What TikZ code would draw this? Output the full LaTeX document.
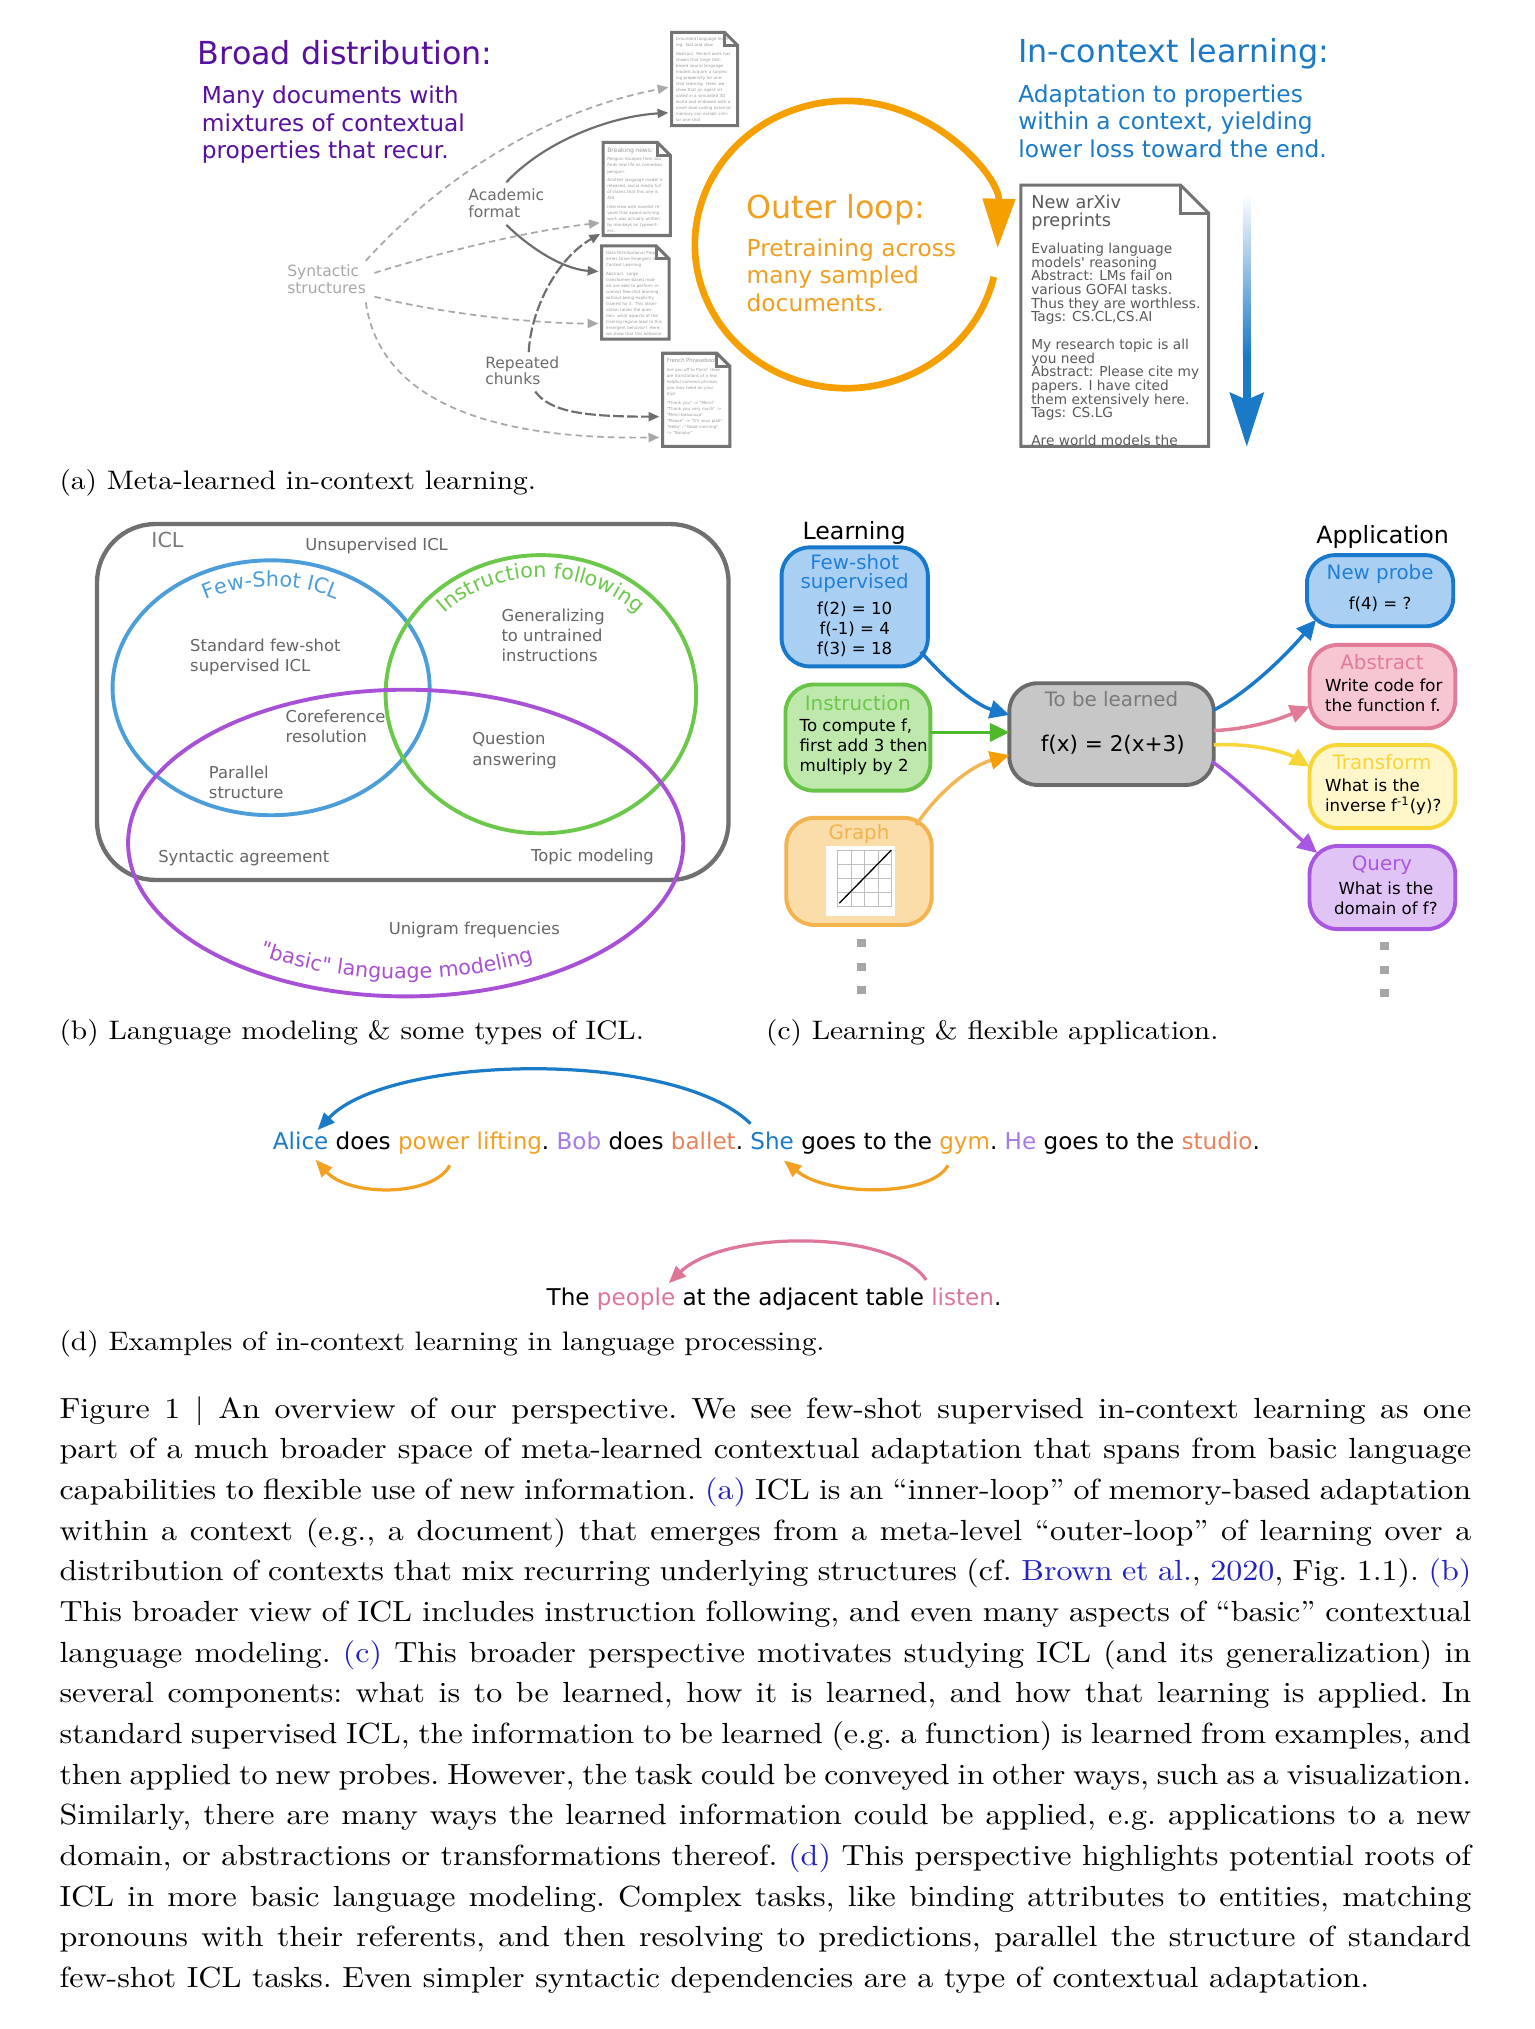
\documentclass[tikz,border=0pt]{standalone}
\usepackage{fontspec}
\usetikzlibrary{arrows.meta,decorations.text,fit,calc}
\newfontfamily\dv{DejaVu Sans}
\newfontfamily\capfont{lmroman10-regular.otf}[FakeStretch=1.1]
\newcommand\fsz[2]{\fontsize{#1}{#2}\selectfont}
\definecolor{purpT}{HTML}{58109E}
\definecolor{blueT}{HTML}{1A7AC8}
\definecolor{orangeT}{HTML}{F0A020}
\definecolor{loopC}{HTML}{F5A000}
\definecolor{lgray}{HTML}{A8A8A8}
\definecolor{dgray}{HTML}{6E6E6E}
\definecolor{docline}{HTML}{747474}
\definecolor{doctext}{HTML}{9A9A9A}
\definecolor{arxtext}{HTML}{5A5A5A}
\definecolor{vblue}{HTML}{4C9EDB}
\definecolor{vgreen}{HTML}{6CC84B}
\definecolor{vpurp}{HTML}{A851D6}
\definecolor{boxgray}{HTML}{707070}
\definecolor{lblgray}{HTML}{666666}
\definecolor{fsF}{HTML}{A9CFF3}\definecolor{fsS}{HTML}{1878CC}\definecolor{fsT}{HTML}{2180D6}
\definecolor{insF}{HTML}{BFE8AD}\definecolor{insS}{HTML}{68C447}\definecolor{insT}{HTML}{6CC64A}\definecolor{insA}{HTML}{4DBA2B}
\definecolor{grF}{HTML}{FBDDA9}\definecolor{grS}{HTML}{F3B34F}\definecolor{grA}{HTML}{F2B657}\definecolor{grH}{HTML}{F5A000}
\definecolor{tblF}{HTML}{C7C7C7}\definecolor{tblS}{HTML}{6B6B6B}\definecolor{tblT}{HTML}{7A7A7A}
\definecolor{abF}{HTML}{F7C6D3}\definecolor{abS}{HTML}{E27B97}
\definecolor{trF}{HTML}{FFF6CA}\definecolor{trS}{HTML}{F8D638}
\definecolor{quF}{HTML}{E1C4F6}\definecolor{quS}{HTML}{A957E2}
\definecolor{dBlue}{HTML}{1A7CC8}\definecolor{dOrange}{HTML}{F2A122}\definecolor{dLav}{HTML}{A57BE8}
\definecolor{dCoral}{HTML}{E8835C}\definecolor{dPink}{HTML}{DE7698}
\definecolor{citeB}{HTML}{2222C8}
\definecolor{dotgray}{HTML}{A6A6A6}
\newcommand\cb[1]{\textcolor{citeB}{#1}}
\newcommand\docout[2]{%
  \draw[docline] (#1.north west) -- ([xshift=-#2]#1.north east) -- ([yshift=-#2]#1.north east) -- (#1.south east) -- (#1.south west) -- cycle;
  \draw[docline] ([xshift=-#2]#1.north east) |- ([yshift=-#2]#1.north east);}
\tikzset{
  docline/.style={draw=docline, line width=1.4pt, line join=miter},
  doctxt/.style={anchor=north west, text width=26pt, align=left, text=doctext, font=\dv\fsz{1.9pt}{2.8pt}},
  lightarr/.style={draw=lgray, line width=0.8pt, dash pattern=on 3pt off 2pt, shorten >=1.5pt, -{Triangle[length=5pt,width=4.2pt]}},
  darkarr/.style={draw=dgray, line width=1pt, shorten >=1.5pt, -{Triangle[length=5pt,width=4.2pt]}},
  longarr/.style={draw=dgray, line width=1pt, dash pattern=on 5pt off 1.5pt, shorten >=1.5pt, -{Triangle[length=5pt,width=4.2pt]}},
  ttl/.style={anchor=base west, font=\dv\fsz{14.7pt}{17pt}},
  bodytxt/.style={anchor=base west, align=left, font=\dv\fsz{10.8pt}{12.8pt}},
  smalllbl/.style={anchor=base west, align=left, font=\dv\fsz{7.2pt}{7.7pt}},
  vennlbl/.style={anchor=base west, align=left, text=lblgray, font=\dv\fsz{7.6pt}{9.3pt}},
  cbox/.style={line width=1.8pt, rounded corners=13pt},
  ctitle/.style={anchor=base, align=center, font=\dv\fsz{9.2pt}{9pt}},
  cbody/.style={anchor=base, align=center, font=\dv\fsz{7.7pt}{9.3pt}},
  cbodyl/.style={anchor=base west, align=left, font=\dv\fsz{7.7pt}{9.3pt}},
  carr/.style={line width=1.6pt, -{Triangle[length=9pt,width=8.4pt]}},
  darr/.style={line width=1.5pt, -{Triangle[length=8pt,width=6.5pt]}},
  wrd/.style={anchor=base west, inner sep=0pt, font=\dv\fsz{10.7pt}{12pt}},
  subcap/.style={anchor=base west, font=\capfont\fsz{12.4pt}{14pt}},
  capline/.style={anchor=base west, font=\capfont\fsz{13.5pt}{15pt}},
}
\begin{document}
\begin{tikzpicture}[x=0.6pt,y=-0.6pt, every node/.style={inner sep=0pt,outer sep=0pt}]
\fill[white] (0,0) rectangle (1185.5,1568);
\useasboundingbox (0,0) rectangle (1185.5,1568);

% ---------------- panel (a) ----------------
% (multi-line nodes are anchored at the baseline of their last line)
\node[ttl, text=purpT] (broad) at (153,50) {Broad distribution:};
\node[bodytxt, text=purpT] (broadtxt) at (156,122.7) {Many documents with\\mixtures of contextual\\properties that recur.};
\node[ttl, text=blueT] (iclt) at (787,48) {In-context learning:};
\node[bodytxt, text=blueT] (iclb) at (787,121.7) {Adaptation to properties\\within a context, yielding\\lower loss toward the end.};
\node[ttl, text=orangeT] (outt) at (577,169) {Outer loop:};
\node[bodytxt, text=orangeT] (outb) at (577,240.7) {Pretraining across\\many sampled\\documents.};

\node[smalllbl, text=lgray] (synt) at (222,226.8) {Syntactic\\structures};
\node[smalllbl, text=dgray] (acad) at (362,167.8) {Academic\\format};
\node[smalllbl, text=dgray] (rep) at (375,297.4) {Repeated\\chunks};

\node[fit={(519,25) (570,97)}] (doc1) {};
\node[fit={(466,110) (518,182)}] (doc2) {};
\node[fit={(465,190) (517,262)}] (doc3) {};
\node[fit={(512,273) (564,345)}] (doc4) {};

\begin{scope}
\clip (doc1.north west) rectangle (doc1.south east);
\node[doctxt] (doc1t) at ([xshift=2pt,yshift=-2.5pt]doc1.north west) {Grounded language learning: fast and slow\\[1.2pt]Abstract. Recent work has shown that large text-based neural language models acquire a surprising propensity for one-shot learning. Here, we show that an agent situated in a simulated 3D world and endowed with a novel dual-coding external memory can exhibit similar one-shot};
\end{scope}
\begin{scope}
\clip (doc2.north west) rectangle (doc2.south east);
\node[doctxt] (doc2t) at ([xshift=2pt,yshift=-2.5pt]doc2.north west) {{\fsz{2.8pt}{3.4pt}Breaking news:}\\[1.2pt]Penguin escapes from zoo, finds new life as comedian penguin.\\[1.2pt]Another language model is released, social media full of claims that this one is AGI.\\[1.2pt]Interview with novelist reveals that award-winning work was actually written by monkeys on typewriters.};
\end{scope}
\begin{scope}
\clip (doc3.north west) rectangle (doc3.south east);
\node[doctxt] (doc3t) at ([xshift=2pt,yshift=-2.5pt]doc3.north west) {Data Distributional Properties Drive Emergent In-Context Learning\\[1.2pt]Abstract. Large transformer-based models are able to perform in-context few-shot learning, without being explicitly trained for it. This observation raises the question: what aspects of the training regime lead to this emergent behavior? Here, we show that this behavior \dots};
\end{scope}
\begin{scope}
\clip (doc4.north west) rectangle (doc4.south east);
\node[doctxt] (doc4t) at ([xshift=2pt,yshift=-2.5pt]doc4.north west) {{\fsz{2.5pt}{3pt}French Phrasebook}\\[1.2pt]Are you off to Paris? Here are translations of a few helpful common phrases you may need on your trip!\\[1.2pt]"Thank you" -> "Merci"\\"Thank you very much" -> "Merci beaucoup"\\"Please" -> "S'il vous plait"\\"Hello" / "Good morning" -> "Bonjour"};
\end{scope}
\docout{doc1}{6pt}
\docout{doc2}{6pt}
\docout{doc3}{6pt}
\docout{doc4}{6pt}

\draw[lightarr] ([yshift=2pt]synt.north east) .. controls (320,160) and (400,90) .. (doc1.west |- 0,67);
\draw[lightarr] ([xshift=4pt,yshift=3pt]synt.east) .. controls (340,195) and (410,178) .. (doc2.west |- 0,172);
\draw[lightarr] ([xshift=4pt,yshift=-8pt]synt.east) .. controls (340,242) and (410,250) .. (doc3.west |- 0,250);
\draw[lightarr] ([yshift=-4pt]synt.south east) .. controls (292,300) and (360,340) .. (doc4.west |- 0,338);
\draw[darkarr] ([yshift=3pt]acad.north) .. controls (420,110) and (470,90) .. (doc1.west |- 0,87);
\draw[darkarr] ([yshift=-3.5pt]acad.south) .. controls (410,192) and (435,208) .. (doc3.west |- 0,210);
\draw[longarr] ([xshift=3pt,yshift=2pt]rep.north) .. controls (410,240) and (430,200) .. ([yshift=1.5pt]doc2.south west);
\draw[longarr] ([xshift=6pt,yshift=-3pt]rep.south) .. controls (425,318) and (450,322) .. (doc4.west |- 0,322);

\coordinate (loopc) at (654,189);
\draw[loopC, line width=3.1pt, -{Triangle[length=23pt,width=14.5pt]}] (loopc) ++(13:117 and 111) arc[start angle=13, end angle=361.5, x radius=117, y radius=111];

\node[fit={(789,143) (934,345)}] (arx) {};
\begin{scope}
\clip (arx.north west) rectangle (arx.south east);
\node[anchor=base west, align=left, text=arxtext, font=\dv\fsz{8.2pt}{8.6pt}] (arxt) at (797,175.2) {New arXiv\\preprints};
\node[anchor=base west, align=left, text=arxtext, font=\dv\fsz{6.36pt}{6.36pt}] (arxb) at (797,344.2) {Evaluating language\\models' reasoning\\Abstract: LMs fail on\\various GOFAI tasks.\\Thus they are worthless.\\Tags: CS.CL,CS.AI\\[6.36pt]My research topic is all\\you need\\Abstract: Please cite my\\papers. I have cited\\them extensively here.\\Tags: CS.LG\\[6.36pt]Are world models the};
\end{scope}
\docout{arx}{13pt}

\shade[top color=white, bottom color=blueT] (960.5,150) rectangle (966.5,275);
\fill[blueT] (960.5,274) rectangle (966.5,310);
\fill[blueT] (950,303) -- (963.5,309) -- (977,303) -- (963.5,345) -- cycle;

\node[subcap] (capa) at (46,378) {(a) Meta-learned in-context learning.};

% ---------------- panel (b) ----------------
\node[fit={(75,405) (563,680)}, draw=boxgray, line width=2pt, rounded corners=27pt] (iclbox) {};
\draw[vblue, line width=1.8pt] (209.5,531.5) ellipse [x radius=122.5, y radius=98.5];
\draw[vgreen, line width=1.8pt] (418,536.5) ellipse [x radius=120, y radius=107.5];
\draw[vpurp, line width=1.8pt] (313.5,651.5) ellipse [x radius=214.5, y radius=118.5];

\path[decorate, decoration={text along path, text align=center, text={|\dv\fsz{9.6pt}{10pt}\color{vblue}|Few-Shot ICL}}]
  (209.5,531.5) ++(200:102.5 and 78.5) arc[start angle=200, end angle=340, x radius=102.5, y radius=78.5];
\path[decorate, decoration={text along path, text align=center, text={|\dv\fsz{9.6pt}{10pt}\color{vgreen}|Instruction following}}]
  (418,536.5) ++(195:103 and 90) arc[start angle=195, end angle=345, x radius=103, y radius=90];
\path[decorate, decoration={text along path, text align=center, text={|\dv\fsz{9.6pt}{10pt}\color{vpurp}|"basic" language modeling}}]
  (313.5,651.5) ++(150:199 and 105) arc[start angle=150, end angle=36, x radius=199, y radius=105];

\node[anchor=base west, text=tblT, font=\dv\fsz{9.6pt}{10pt}] (icll) at (117,423) {ICL};
\node[vennlbl] (unsup) at (236,425.5) {Unsupervised ICL};
\node[vennlbl] (stdfs) at (147,519.1) {Standard few-shot\\supervised ICL};
\node[vennlbl] (gener) at (387.6,511.4) {Generalizing\\to untrained\\instructions};
\node[vennlbl] (coref) at (220.8,574) {Coreference\\resolution};
\node[vennlbl] (qa) at (365,591.2) {Question\\answering};
\node[vennlbl] (par) at (161.5,617) {Parallel\\structure};
\node[vennlbl] (synag) at (122.3,666.7) {Syntactic agreement};
\node[vennlbl] (topic) at (410.4,665.9) {Topic modeling};
\node[vennlbl] (unig) at (300.5,721.8) {Unigram frequencies};

\node[subcap] (capb) at (46,803) {(b) Language modeling \& some types of ICL.};

% ---------------- panel (c) ----------------
\node[anchor=base, font=\dv\fsz{11pt}{12pt}] (learn) at (660,417) {Learning};
\node[anchor=base, font=\dv\fsz{11pt}{12pt}] (appl) at (1068.5,419.9) {Application};

\node[fit={(604,423) (717,515)}, cbox, draw=fsS, fill=fsF] (fs) {};
\node[fit={(607,529) (719,611)}, cbox, draw=insS, fill=insF] (ins) {};
\node[fit={(607.6,632) (720,714.8)}, cbox, draw=grS, fill=grF] (gr) {};
\node[fit={(780,528) (938,606.6)}, cbox, draw=tblS, fill=tblF] (tbl) {};
\node[fit={(1010,429) (1123,484)}, cbox, draw=fsS, fill=fsF] (np) {};
\node[fit={(1012,498.4) (1124.6,562.8)}, cbox, draw=abS, fill=abF] (ab) {};
\node[fit={(1012,575.7) (1124.6,640)}, cbox, draw=trS, fill=trF] (tr) {};
\node[fit={(1012,653.8) (1124.6,718)}, cbox, draw=quS, fill=quF] (qu) {};

\node[ctitle, text=fsT] (fst) at (660.5,455) {Few-shot\\supervised};
\node[cbody] (fsb) at (660.5,505.5) {f(2) = 10\\f(-1) = 4\\f(3) = 18};
\node[ctitle, text=insT] (inst) at (663,548.7) {Instruction};
\node[cbodyl] (insb) at (618,596.4) {To compute f,\\first add 3 then\\multiply by 2};
\node[ctitle, text=grS] (grt) at (663.8,649.1) {Graph};
\node[fit={(638,654) (691.6,708)}, fill=white] (plot) {};
\foreach \gx in {647,657.5,668,678.5,689} \draw[black!25, line width=0.25pt] (\gx,657) -- (\gx,700);
\foreach \gy in {657,667.75,678.5,689.25,700} \draw[black!25, line width=0.25pt] (647,\gy) -- (689,\gy);
\draw[black, line width=0.6pt] (648.6,698) -- (688.8,657);
\node[ctitle, text=tblT] (tblt) at (859,546.1) {To be learned};
\node[anchor=base, font=\dv\fsz{10pt}{11pt}] (tblb) at (860,580.9) {f(x) = 2(x+3)};
\node[ctitle, text=fsT] (npt) at (1066.5,448.2) {New probe};
\node[cbody] (npb) at (1066.5,470.9) {f(4) = ?};
\node[ctitle, text=abS] (abt) at (1068,517.2) {Abstract};
\node[cbodyl] (abb) at (1024,550) {Write code for\\the function f.};
\node[ctitle, text=trS] (trt) at (1068,594.5) {Transform};
\node[cbodyl] (trb) at (1024,627.3) {What is the\\inverse f\textsuperscript{-1}(y)?};
\node[ctitle, text=quS] (qut) at (1068,672.8) {Query};
\node[cbody] (qub) at (1071,706.6) {What is the\\domain of f?};

\draw[carr, fsS] ([xshift=-3.2pt,yshift=6.8pt]fs.south east) .. controls (735,530) and (755,545) .. (tbl.west |- 0,552.5);
\draw[carr, insA] (ins.east |- 0,566) -- (tbl.west |- 0,566);
\draw[carr, grA, -{Triangle[length=9pt,width=8.4pt,color=grH]}] ([xshift=-7.2pt,yshift=-3.3pt]gr.north east) .. controls (725,612) and (750,592) .. (tbl.west |- 0,583.5);
\draw[carr, fsS] (tbl.east |- 0,548.7) .. controls (965,535) and (995,505) .. ([xshift=4.2pt,yshift=3pt]np.south west);
\draw[carr, abS] (tbl.east |- 0,564.6) .. controls (970,563) and (990,555) .. (ab.west |- 0,546);
\draw[carr, trS] (tbl.east |- 0,575.7) .. controls (970,574) and (995,582) .. (tr.west |- 0,592.5);
\draw[carr, quS] ([xshift=-0.8pt]tbl.east |- 0,588.6) .. controls (960,605) and (995,640) .. ([xshift=3.5pt,yshift=-3.2pt]qu.north west);

\foreach \dy in {729,747.5,765} \fill[dotgray] (662.5,\dy-3) rectangle ++(7,6);
\foreach \dy in {731,749.6,767.6} \fill[dotgray] (1066.2,\dy-3) rectangle ++(7,6);

\node[subcap] (capc) at (592,803) {(c) Learning \& flexible application.};

% ---------------- panel (d) ----------------
\node[wrd, text=dBlue] (s1) at (210.9,888.5) {Alice};
\node[wrd] (s2) at (s1.base east) {\ does\ \mbox{}};
\node[wrd, text=dOrange] (s3) at (s2.base east) {power lifting};
\node[wrd] (s4) at (s3.base east) {.\ \textcolor{dLav}{Bob} does \textcolor{dCoral}{ballet}.\ \mbox{}};
\node[wrd, text=dBlue] (s5) at (s4.base east) {She};
\node[wrd] (s6) at (s5.base east) {\ goes to the\ \mbox{}};
\node[wrd, text=dOrange] (s7) at (s6.base east) {gym};
\node[wrd] (s8) at (s7.base east) {.\ \textcolor{dLav}{He} goes to the \textcolor{dCoral}{studio}.};

\node[wrd] (t1) at (422.5,1008.5) {The\ \mbox{}};
\node[wrd, text=dPink] (t2) at (t1.base east) {people};
\node[wrd] (t3) at (t2.base east) {\ at the adjacent table\ \mbox{}};
\node[wrd, text=dPink] (t4) at (t3.base east) {listen};
\node[wrd] (t5) at (t4.base east) {.};

\draw[darr, dBlue] ([yshift=4pt]s5.north west) .. controls (520,810) and (300,815) .. ([xshift=-5pt,yshift=1pt]s1.north east);
\draw[darr, dOrange] ([xshift=24pt,yshift=-5pt]s3.south west) .. controls (335,925) and (270,925) .. ([xshift=-6pt,yshift=-4.5pt]s1.south east);
\draw[darr, dOrange] ([xshift=4pt,yshift=-5pt]s7.south west) .. controls (720,925) and (640,925) .. ([xshift=-4.6pt,yshift=-4.8pt]s5.south east);
\draw[darr, dPink] ([xshift=-2.4pt,yshift=3.5pt]t4.north west) .. controls (690,950) and (560,950) .. ([xshift=-3pt,yshift=2pt]t2.north east);

\node[subcap] (capd) at (46,1044) {(d) Examples of in-context learning in language processing.};

% ---------------- caption ----------------
\begingroup\frenchspacing
\node[capline] (c1) at (46,1096) {\makebox[654.6pt][s]{Figure 1 | An overview of our perspective. We see few-shot supervised in-context learning as one}};
\node[capline] (c2) at (46,1127.43) {\makebox[654.6pt][s]{part of a much broader space of meta-learned contextual adaptation that spans from basic language}};
\node[capline] (c3) at (46,1158.86) {\makebox[654.6pt][s]{capabilities to flexible use of new information. \cb{(a)} ICL is an “inner-loop” of memory-based adaptation}};
\node[capline] (c4) at (46,1190.29) {\makebox[654.6pt][s]{within a context (e.g., a document) that emerges from a meta-level “outer-loop” of learning over a}};
\node[capline] (c5) at (46,1221.72) {\makebox[654.6pt][s]{distribution of contexts that mix recurring underlying structures (cf. \cb{Brown et al.}, \cb{2020}, Fig. 1.1). \cb{(b)}}};
\node[capline] (c6) at (46,1253.15) {\makebox[654.6pt][s]{This broader view of ICL includes instruction following, and even many aspects of “basic” contextual}};
\node[capline] (c7) at (46,1284.58) {\makebox[654.6pt][s]{language modeling. \cb{(c)} This broader perspective motivates studying ICL (and its generalization) in}};
\node[capline] (c8) at (46,1316.01) {\makebox[654.6pt][s]{several components: what is to be learned, how it is learned, and how that learning is applied. In}};
\node[capline] (c9) at (46,1347.44) {\makebox[654.6pt][s]{standard supervised ICL, the information to be learned (e.g. a function) is learned from examples, and}};
\node[capline] (c10) at (46,1378.87) {\makebox[654.6pt][s]{then applied to new probes. However, the task could be conveyed in other ways, such as a visualization.}};
\node[capline] (c11) at (46,1410.3) {\makebox[654.6pt][s]{Similarly, there are many ways the learned information could be applied, e.g. applications to a new}};
\node[capline] (c12) at (46,1441.73) {\makebox[654.6pt][s]{domain, or abstractions or transformations thereof. \cb{(d)} This perspective highlights potential roots of}};
\node[capline] (c13) at (46,1473.16) {\makebox[654.6pt][s]{ICL in more basic language modeling. Complex tasks, like binding attributes to entities, matching}};
\node[capline] (c14) at (46,1504.59) {\makebox[654.6pt][s]{pronouns with their referents, and then resolving to predictions, parallel the structure of standard}};
\node[capline] (c15) at (46,1536.02) {few-shot ICL tasks. Even simpler syntactic dependencies are a type of contextual adaptation.};
\endgroup
\end{tikzpicture}
\end{document}
